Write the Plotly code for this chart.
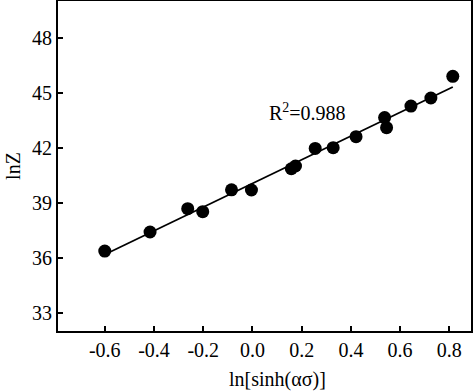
import numpy as np
import plotly.graph_objects as go

ln_sinh = [-0.600, -0.416, -0.263, -0.202, -0.085, -0.004, 0.158, 0.175, 0.255, 0.328, 0.421, 0.537, 0.545, 0.644, 0.725, 0.814]
lnZ = [36.36, 37.40, 38.67, 38.51, 39.70, 39.69, 40.85, 41.00, 41.96, 42.00, 42.60, 43.64, 43.09, 44.27, 44.71, 45.89]
x_ticks = [-0.6, -0.4, -0.2, 0.0, 0.2, 0.4, 0.6, 0.8]
y_ticks = [33, 36, 39, 42, 45, 48]
r2_text = "R<sup>2</sup>=0.988"

slope, intercept = np.polyfit(ln_sinh, lnZ, 1)
fit_x = np.array([min(ln_sinh) + 0.015, max(ln_sinh)])
fit_y = slope * fit_x + intercept

FONT = "Liberation Serif"

fig = go.Figure()
fig.add_trace(go.Scatter(x=fit_x, y=fit_y, mode="lines",
                         line=dict(color="black", width=1.8), showlegend=False))
fig.add_trace(go.Scatter(x=ln_sinh, y=lnZ, mode="markers",
                         marker=dict(color="black", size=13), showlegend=False))

fig.add_annotation(x=0.224, y=43.95, xref="x", yref="y", text=r2_text,
                   showarrow=False, font=dict(family=FONT, size=20, color="black"))
fig.add_annotation(x=0.531, y=-0.148, xref="paper", yref="paper", text="ln[sinh(ασ)]",
                   showarrow=False, yanchor="middle", font=dict(family=FONT, size=20, color="black"))

fig.update_xaxes(range=[-0.79, 0.888], tickvals=x_ticks,
                 ticktext=[f"{v:.1f}" for v in x_ticks],
                 ticks="inside", ticklen=5, tickwidth=1.5, tickcolor="black",
                 showline=True, linecolor="black", linewidth=2, mirror=True,
                 showgrid=False, zeroline=False, automargin=False,
                 tickfont=dict(family=FONT, size=20, color="black"))
fig.update_yaxes(range=[32, 50], tickvals=y_ticks,
                 ticks="inside", ticklen=5, tickwidth=1.5, tickcolor="black",
                 showline=True, linecolor="black", linewidth=2, mirror=True,
                 showgrid=False, zeroline=False, automargin=False,
                 title=dict(text="lnZ", font=dict(family=FONT, size=20, color="black"), standoff=6),
                 tickfont=dict(family=FONT, size=20, color="black"))

fig.update_layout(width=474, height=391, margin=dict(l=58, r=3, t=1, b=60),
                  plot_bgcolor="white", paper_bgcolor="white")
fig.write_html("out.html", config={"displayModeBar": False},
               post_script="document.body.style.margin='0';document.body.style.overflow='hidden';")
